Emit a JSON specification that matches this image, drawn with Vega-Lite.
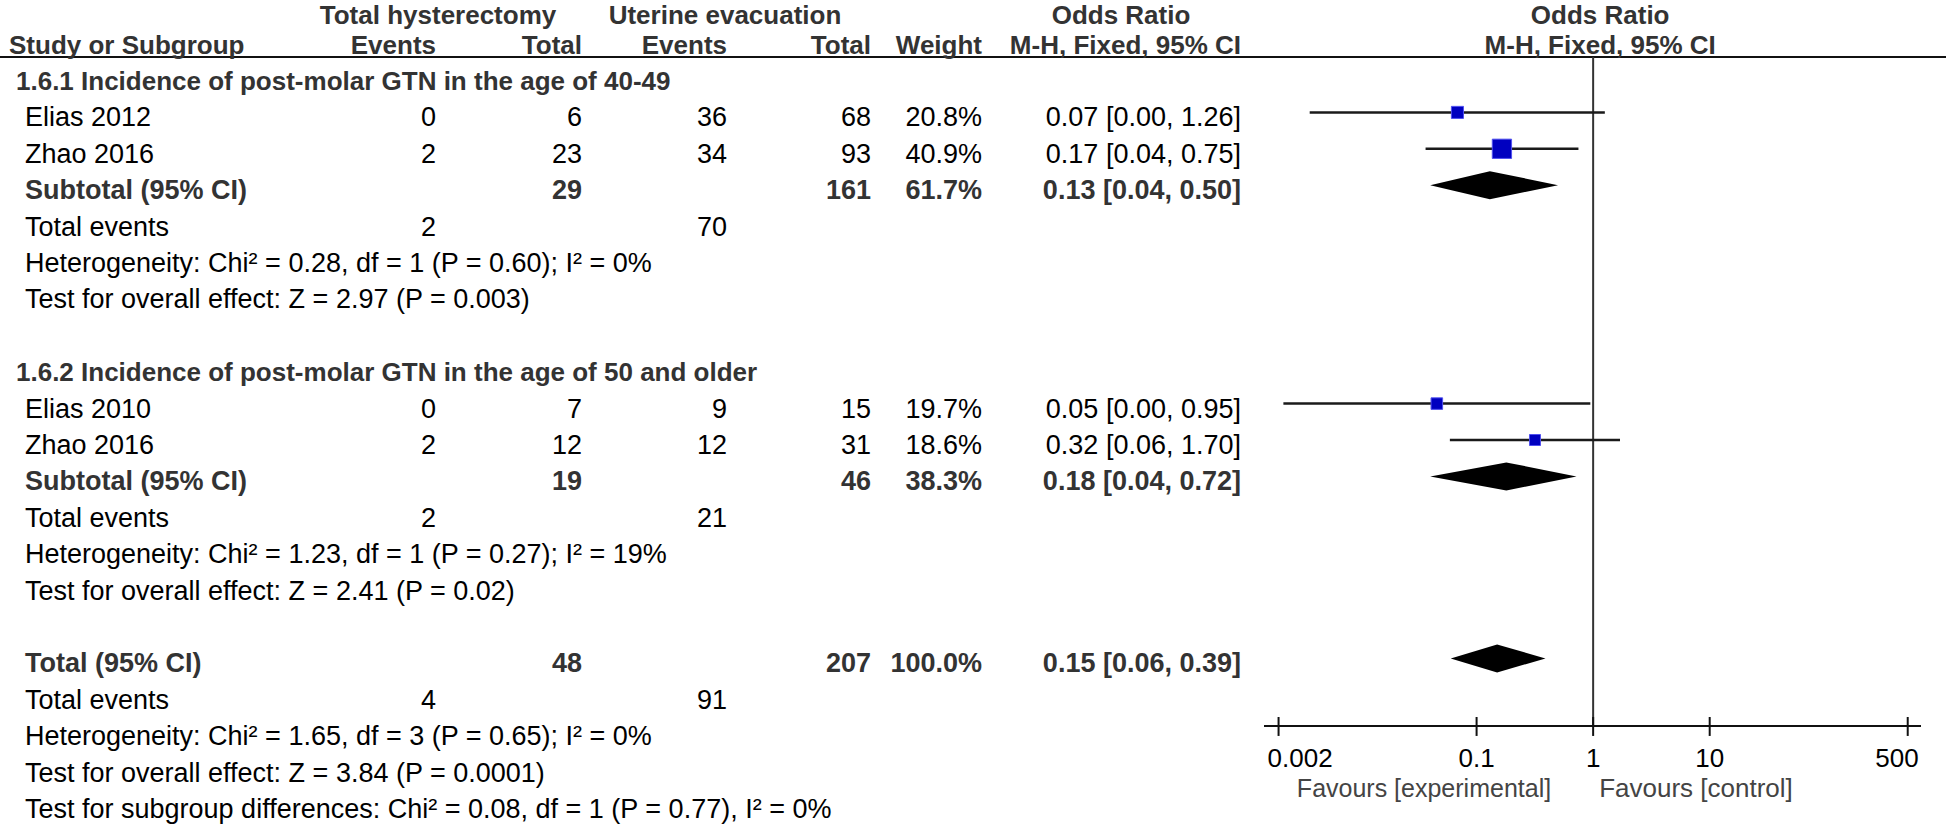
{
  "$schema": "https://vega.github.io/schema/vega-lite/v6.json",
  "width": 1946,
  "height": 824,
  "autosize": "none",
  "padding": 0,
  "background": "white",
  "config": {"view": {"stroke": null}, "text": {"font": "Liberation Sans", "fontSize": 27}},
  "datasets": {
    "table": [
      {"row": -1, "kind": "header", "label": "Study or Subgroup", "ev1": "Events", "n1": "Total", "ev2": "Events", "n2": "Total", "weight": "Weight", "ci": "M-H, Fixed, 95% CI"},
      {"row": 0, "kind": "section", "label": "1.6.1 Incidence of post-molar GTN in the age of 40-49"},
      {"row": 1, "kind": "study", "label": "Elias 2012", "ev1": "0", "n1": "6", "ev2": "36", "n2": "68", "weight": "20.8%", "ci": "0.07 [0.00, 1.26]", "w": 20.8, "or": 0.0685, "lo": 0.0037, "hi": 1.26},
      {"row": 2, "kind": "study", "label": "Zhao 2016", "ev1": "2", "n1": "23", "ev2": "34", "n2": "93", "weight": "40.9%", "ci": "0.17 [0.04, 0.75]", "w": 40.9, "or": 0.165, "lo": 0.0365, "hi": 0.748},
      {"row": 3, "kind": "subtotal", "label": "Subtotal (95% CI)", "n1": "29", "n2": "161", "weight": "61.7%", "ci": "0.13 [0.04, 0.50]", "or": 0.13, "lo": 0.04, "hi": 0.5},
      {"row": 4, "kind": "events", "label": "Total events", "ev1": "2", "ev2": "70"},
      {"row": 5, "kind": "note", "label": "Heterogeneity: Chi² = 0.28, df = 1 (P = 0.60); I² = 0%"},
      {"row": 6, "kind": "note", "label": "Test for overall effect: Z = 2.97 (P = 0.003)"},
      {"row": 8, "kind": "section", "label": "1.6.2 Incidence of post-molar GTN in the age of 50 and older"},
      {"row": 9, "kind": "study", "label": "Elias 2010", "ev1": "0", "n1": "7", "ev2": "9", "n2": "15", "weight": "19.7%", "ci": "0.05 [0.00, 0.95]", "w": 19.7, "or": 0.0456, "lo": 0.0022, "hi": 0.946},
      {"row": 10, "kind": "study", "label": "Zhao 2016", "ev1": "2", "n1": "12", "ev2": "12", "n2": "31", "weight": "18.6%", "ci": "0.32 [0.06, 1.70]", "w": 18.6, "or": 0.317, "lo": 0.059, "hi": 1.7},
      {"row": 11, "kind": "subtotal", "label": "Subtotal (95% CI)", "n1": "19", "n2": "46", "weight": "38.3%", "ci": "0.18 [0.04, 0.72]", "or": 0.18, "lo": 0.04, "hi": 0.72},
      {"row": 12, "kind": "events", "label": "Total events", "ev1": "2", "ev2": "21"},
      {"row": 13, "kind": "note", "label": "Heterogeneity: Chi² = 1.23, df = 1 (P = 0.27); I² = 19%"},
      {"row": 14, "kind": "note", "label": "Test for overall effect: Z = 2.41 (P = 0.02)"},
      {"row": 16, "kind": "subtotal", "label": "Total (95% CI)", "n1": "48", "n2": "207", "weight": "100.0%", "ci": "0.15 [0.06, 0.39]", "or": 0.15, "lo": 0.06, "hi": 0.39},
      {"row": 17, "kind": "events", "label": "Total events", "ev1": "4", "ev2": "91"},
      {"row": 18, "kind": "note", "label": "Heterogeneity: Chi² = 1.65, df = 3 (P = 0.65); I² = 0%"},
      {"row": 19, "kind": "note", "label": "Test for overall effect: Z = 3.84 (P = 0.0001)"},
      {"row": 20, "kind": "note", "label": "Test for subgroup differences: Chi² = 0.08, df = 1 (P = 0.77), I² = 0%"}
    ],
    "ticks": [{"v": 0.002, "label": "0.002"}, {"v": 0.1, "label": "0.1"}, {"v": 1, "label": "1"}, {"v": 10, "label": "10"}, {"v": 500, "label": "500"}]
  },
  "data": {"name": "table"},
  "layer": [
    {
      "data": {"values": [{}]},
      "mark": {"type": "rule", "color": "#111", "strokeWidth": 2},
      "encoding": {
        "y": {"datum": -0.522, "type": "quantitative", "scale": {"domain": [-2.0879, 20.549], "reverse": true, "nice": false, "zero": false}, "axis": null},
        "x": {"value": 0},
        "x2": {"value": "width"}
      }
    },
    {
      "data": {"values": [{}]},
      "mark": {"type": "rule", "color": "#333", "strokeWidth": 2},
      "encoding": {
        "x": {"datum": 1, "type": "quantitative", "scale": {"type": "log", "domain": [0.0015, 650], "range": [1264, 1921], "nice": false}, "axis": null},
        "y": {"datum": -0.522, "type": "quantitative", "scale": {"domain": [-2.0879, 20.549], "reverse": true, "nice": false, "zero": false}, "axis": null},
        "y2": {"datum": 17.857}
      }
    },
    {
      "data": {"values": [{}]},
      "mark": {"type": "rule", "color": "#111", "strokeWidth": 2},
      "encoding": {
        "x": {"datum": 0.0015, "type": "quantitative", "scale": {"type": "log", "domain": [0.0015, 650], "range": [1264, 1921], "nice": false}, "axis": null},
        "x2": {"datum": 650},
        "y": {"datum": 17.857, "type": "quantitative", "scale": {"domain": [-2.0879, 20.549], "reverse": true, "nice": false, "zero": false}, "axis": null}
      }
    },
    {
      "data": {"name": "ticks"},
      "mark": {"type": "rule", "color": "#111", "strokeWidth": 2},
      "encoding": {
        "x": {"field": "v", "type": "quantitative", "scale": {"type": "log", "domain": [0.0015, 650], "range": [1264, 1921], "nice": false}, "axis": null},
        "y": {"datum": 17.61, "type": "quantitative", "scale": {"domain": [-2.0879, 20.549], "reverse": true, "nice": false, "zero": false}, "axis": null},
        "y2": {"datum": 18.13}
      }
    },
    {
      "data": {"name": "ticks"},
      "mark": {"type": "text", "baseline": "middle", "dy": 1.5, "fill": "#000", "fontSize": 26,
        "align": {"expr": "datum.v === 0.002 ? 'left' : datum.v === 500 ? 'right' : 'center'"},
        "dx": {"expr": "datum.v === 0.002 ? -11 : datum.v === 500 ? 11 : 0"}},
      "encoding": {
        "x": {"field": "v", "type": "quantitative", "scale": {"type": "log", "domain": [0.0015, 650], "range": [1264, 1921], "nice": false}, "axis": null},
        "y": {"datum": 18.71, "type": "quantitative", "scale": {"domain": [-2.0879, 20.549], "reverse": true, "nice": false, "zero": false}, "axis": null},
        "text": {"field": "label", "type": "nominal"}
      }
    },
    {
      "transform": [{"filter": "datum.kind === 'study'"}],
      "mark": {"type": "rule", "color": "#1a1a1a", "strokeWidth": 2.5},
      "encoding": {
        "x": {"field": "lo", "type": "quantitative", "scale": {"type": "log", "domain": [0.0015, 650], "range": [1264, 1921], "nice": false}, "axis": null},
        "x2": {"field": "hi"},
        "y": {"field": "row", "type": "quantitative", "scale": {"domain": [-2.0879, 20.549], "reverse": true, "nice": false, "zero": false}, "axis": null}
      }
    },
    {
      "transform": [{"filter": "datum.kind === 'study'"}],
      "mark": {"type": "point", "shape": "square", "filled": true, "fill": "#0000c0", "stroke": "#5050f0", "strokeWidth": 1, "opacity": 1},
      "encoding": {
        "x": {"field": "or", "type": "quantitative", "scale": {"type": "log", "domain": [0.0015, 650], "range": [1264, 1921], "nice": false}, "axis": null},
        "y": {"field": "row", "type": "quantitative", "scale": {"domain": [-2.0879, 20.549], "reverse": true, "nice": false, "zero": false}, "axis": null},
        "size": {"field": "w", "type": "quantitative", "scale": {"type": "linear", "domain": [18.6, 40.9], "range": [121, 372], "zero": false}, "legend": null}
      }
    },
    {
      "transform": [
        {"filter": "datum.kind === 'subtotal'"},
        {"fold": ["lo", "or", "hi"], "as": ["pt", "val"]}
      ],
      "mark": {"type": "area", "color": "#000", "opacity": 1,
        "yOffset": {"expr": "datum.pt === 'or' ? -14 : 0"},
        "y2Offset": {"expr": "datum.pt === 'or' ? 14 : 0"}},
      "encoding": {
        "x": {"field": "val", "type": "quantitative", "scale": {"type": "log", "domain": [0.0015, 650], "range": [1264, 1921], "nice": false}, "axis": null},
        "y": {"field": "row", "type": "quantitative", "scale": {"domain": [-2.0879, 20.549], "reverse": true, "nice": false, "zero": false}, "axis": null},
        "y2": {"field": "row"},
        "detail": {"field": "row", "type": "nominal"}
      }
    },
    {
      "mark": {"type": "text", "align": "left", "baseline": "middle", "dy": 6,
        "dx": {"expr": "datum.kind === 'header' ? 0 : datum.kind === 'section' ? 7 : 16"},
        "fontSize": {"expr": "datum.kind === 'header' || datum.kind === 'section' ? 26 : 27"},
        "fontWeight": {"expr": "indexof(['header','section','subtotal'], datum.kind) >= 0 ? 'bold' : 'normal'"},
        "fill": {"expr": "indexof(['header','section','subtotal'], datum.kind) >= 0 ? '#333' : '#000'"}},
      "encoding": {
        "x": {"value": 9},
        "y": {"field": "row", "type": "quantitative", "scale": {"domain": [-2.0879, 20.549], "reverse": true, "nice": false, "zero": false}, "axis": null},
        "text": {"field": "label", "type": "nominal"}
      }
    },
    {
      "transform": [{"filter": "isValid(datum.ev1)"}],
      "mark": {"type": "text", "align": "right", "baseline": "middle", "dy": 6,
        "fontSize": {"expr": "datum.kind === 'header' ? 26 : 27"},
        "fontWeight": {"expr": "indexof(['header','section','subtotal'], datum.kind) >= 0 ? 'bold' : 'normal'"},
        "fill": {"expr": "indexof(['header','section','subtotal'], datum.kind) >= 0 ? '#333' : '#000'"}},
      "encoding": {
        "x": {"value": 436},
        "y": {"field": "row", "type": "quantitative", "scale": {"domain": [-2.0879, 20.549], "reverse": true, "nice": false, "zero": false}, "axis": null},
        "text": {"field": "ev1", "type": "nominal"}
      }
    },
    {
      "transform": [{"filter": "isValid(datum.n1)"}],
      "mark": {"type": "text", "align": "right", "baseline": "middle", "dy": 6,
        "fontSize": {"expr": "datum.kind === 'header' ? 26 : 27"},
        "fontWeight": {"expr": "indexof(['header','section','subtotal'], datum.kind) >= 0 ? 'bold' : 'normal'"},
        "fill": {"expr": "indexof(['header','section','subtotal'], datum.kind) >= 0 ? '#333' : '#000'"}},
      "encoding": {
        "x": {"value": 582},
        "y": {"field": "row", "type": "quantitative", "scale": {"domain": [-2.0879, 20.549], "reverse": true, "nice": false, "zero": false}, "axis": null},
        "text": {"field": "n1", "type": "nominal"}
      }
    },
    {
      "transform": [{"filter": "isValid(datum.ev2)"}],
      "mark": {"type": "text", "align": "right", "baseline": "middle", "dy": 6,
        "fontSize": {"expr": "datum.kind === 'header' ? 26 : 27"},
        "fontWeight": {"expr": "indexof(['header','section','subtotal'], datum.kind) >= 0 ? 'bold' : 'normal'"},
        "fill": {"expr": "indexof(['header','section','subtotal'], datum.kind) >= 0 ? '#333' : '#000'"}},
      "encoding": {
        "x": {"value": 727},
        "y": {"field": "row", "type": "quantitative", "scale": {"domain": [-2.0879, 20.549], "reverse": true, "nice": false, "zero": false}, "axis": null},
        "text": {"field": "ev2", "type": "nominal"}
      }
    },
    {
      "transform": [{"filter": "isValid(datum.n2)"}],
      "mark": {"type": "text", "align": "right", "baseline": "middle", "dy": 6,
        "fontSize": {"expr": "datum.kind === 'header' ? 26 : 27"},
        "fontWeight": {"expr": "indexof(['header','section','subtotal'], datum.kind) >= 0 ? 'bold' : 'normal'"},
        "fill": {"expr": "indexof(['header','section','subtotal'], datum.kind) >= 0 ? '#333' : '#000'"}},
      "encoding": {
        "x": {"value": 871},
        "y": {"field": "row", "type": "quantitative", "scale": {"domain": [-2.0879, 20.549], "reverse": true, "nice": false, "zero": false}, "axis": null},
        "text": {"field": "n2", "type": "nominal"}
      }
    },
    {
      "transform": [{"filter": "isValid(datum.weight)"}],
      "mark": {"type": "text", "align": "right", "baseline": "middle", "dy": 6,
        "fontSize": {"expr": "datum.kind === 'header' ? 26 : 27"},
        "fontWeight": {"expr": "indexof(['header','section','subtotal'], datum.kind) >= 0 ? 'bold' : 'normal'"},
        "fill": {"expr": "indexof(['header','section','subtotal'], datum.kind) >= 0 ? '#333' : '#000'"}},
      "encoding": {
        "x": {"value": 982},
        "y": {"field": "row", "type": "quantitative", "scale": {"domain": [-2.0879, 20.549], "reverse": true, "nice": false, "zero": false}, "axis": null},
        "text": {"field": "weight", "type": "nominal"}
      }
    },
    {
      "transform": [{"filter": "isValid(datum.ci)"}],
      "mark": {"type": "text", "align": "right", "baseline": "middle", "dy": 6,
        "fontSize": {"expr": "datum.kind === 'header' ? 26 : 27"},
        "fontWeight": {"expr": "indexof(['header','section','subtotal'], datum.kind) >= 0 ? 'bold' : 'normal'"},
        "fill": {"expr": "indexof(['header','section','subtotal'], datum.kind) >= 0 ? '#333' : '#000'"}},
      "encoding": {
        "x": {"value": 1241},
        "y": {"field": "row", "type": "quantitative", "scale": {"domain": [-2.0879, 20.549], "reverse": true, "nice": false, "zero": false}, "axis": null},
        "text": {"field": "ci", "type": "nominal"}
      }
    },
    {
      "data": {"values": [{"t": "Total hysterectomy"}]},
      "mark": {"type": "text", "align": "center", "baseline": "middle", "dy": 13, "fontSize": 26, "fontWeight": "bold", "fill": "#333"},
      "encoding": {
        "x": {"value": 438},
        "y": {"datum": -2, "type": "quantitative", "scale": {"domain": [-2.0879, 20.549], "reverse": true, "nice": false, "zero": false}, "axis": null},
        "text": {"field": "t", "type": "nominal"}
      }
    },
    {
      "data": {"values": [{"t": "Uterine evacuation"}]},
      "mark": {"type": "text", "align": "center", "baseline": "middle", "dy": 13, "fontSize": 26, "fontWeight": "bold", "fill": "#333"},
      "encoding": {
        "x": {"value": 725},
        "y": {"datum": -2, "type": "quantitative", "scale": {"domain": [-2.0879, 20.549], "reverse": true, "nice": false, "zero": false}, "axis": null},
        "text": {"field": "t", "type": "nominal"}
      }
    },
    {
      "data": {"values": [{"t": "Odds Ratio"}]},
      "mark": {"type": "text", "align": "center", "baseline": "middle", "dy": 13, "fontSize": 26, "fontWeight": "bold", "fill": "#333"},
      "encoding": {
        "x": {"value": 1121},
        "y": {"datum": -2, "type": "quantitative", "scale": {"domain": [-2.0879, 20.549], "reverse": true, "nice": false, "zero": false}, "axis": null},
        "text": {"field": "t", "type": "nominal"}
      }
    },
    {
      "data": {"values": [{"t": "Odds Ratio", "r": -2}, {"t": "M-H, Fixed, 95% CI", "r": -1}]},
      "mark": {"type": "text", "align": "center", "baseline": "middle", "dx": 7, "dy": {"expr": "datum.r === -2 ? 13 : 6"}, "fontSize": 26, "fontWeight": "bold", "fill": "#333"},
      "encoding": {
        "x": {"datum": 1, "type": "quantitative", "scale": {"type": "log", "domain": [0.0015, 650], "range": [1264, 1921], "nice": false}, "axis": null},
        "y": {"field": "r", "type": "quantitative", "scale": {"domain": [-2.0879, 20.549], "reverse": true, "nice": false, "zero": false}, "axis": null},
        "text": {"field": "t", "type": "nominal"}
      }
    },
    {
      "data": {"values": [{"t": "Favours [experimental]"}]},
      "mark": {"type": "text", "align": "right", "baseline": "middle", "dx": -42, "dy": 1.5, "fontSize": 25, "fill": "#444"},
      "encoding": {
        "x": {"datum": 1, "type": "quantitative", "scale": {"type": "log", "domain": [0.0015, 650], "range": [1264, 1921], "nice": false}, "axis": null},
        "y": {"datum": 19.56, "type": "quantitative", "scale": {"domain": [-2.0879, 20.549], "reverse": true, "nice": false, "zero": false}, "axis": null},
        "text": {"field": "t", "type": "nominal"}
      }
    },
    {
      "data": {"values": [{"t": "Favours [control]"}]},
      "mark": {"type": "text", "align": "left", "baseline": "middle", "dx": 6, "dy": 1.5, "fontSize": 26, "fill": "#444"},
      "encoding": {
        "x": {"datum": 1, "type": "quantitative", "scale": {"type": "log", "domain": [0.0015, 650], "range": [1264, 1921], "nice": false}, "axis": null},
        "y": {"datum": 19.56, "type": "quantitative", "scale": {"domain": [-2.0879, 20.549], "reverse": true, "nice": false, "zero": false}, "axis": null},
        "text": {"field": "t", "type": "nominal"}
      }
    }
  ]
}
